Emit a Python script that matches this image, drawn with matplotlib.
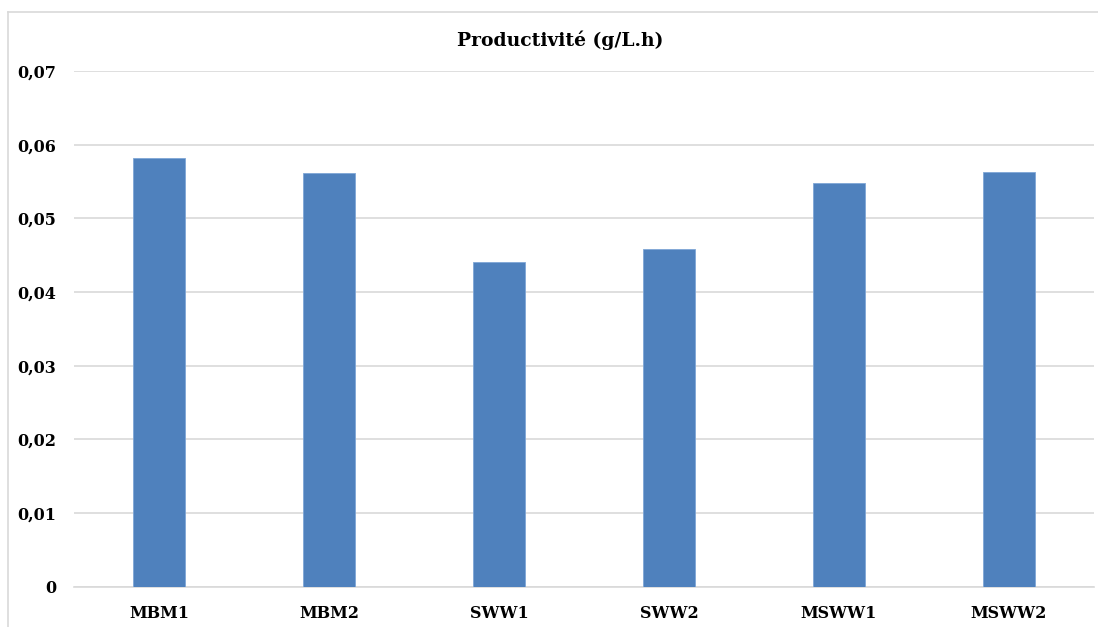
import matplotlib
matplotlib.use("Agg")
import matplotlib.pyplot as plt
from matplotlib.ticker import FuncFormatter, MultipleLocator
from matplotlib.lines import Line2D

categories = ["MBM1", "MBM2", "SWW1", "SWW2", "MSWW1", "MSWW2"]
values = [0.0582, 0.0561, 0.0441, 0.0458, 0.0548, 0.0563]
title = "Productivité (g/L.h)"

plt.rcParams['font.family'] = ['DejaVu Serif']
fig = plt.figure(figsize=(10.98, 6.27), dpi=100)
ax = fig.add_axes([74/1098, 1 - 586.7/627, (1094-74)/1098, (586.7-71)/627])

x = range(len(categories))
ax.bar(x, values, width=0.31, color="#4F81BD", edgecolor="#7FA6D6", linewidth=0.6, zorder=3)
ax.set_xlim(-0.5, len(categories) - 0.5)
ax.set_ylim(0, 0.07)
ax.yaxis.set_major_locator(MultipleLocator(0.01))
ax.yaxis.set_major_formatter(FuncFormatter(lambda v, p: "0" if abs(v) < 1e-12 else f"{v:.2f}".replace(".", ",")))
ax.set_xticks(list(x))
ax.set_xticklabels(categories)
ax.grid(axis="y", color="#D9D9D9", linewidth=1.2, zorder=0)
for s in ["top", "right", "left"]:
    ax.spines[s].set_visible(False)
ax.spines["bottom"].set_color("#D9D9D9")
ax.spines["bottom"].set_linewidth(1.2)
ax.tick_params(axis="both", length=0, labelsize=11.5, colors="black")
ax.tick_params(axis="y", pad=13)
ax.tick_params(axis="x", pad=13)
for lab in ax.get_xticklabels() + ax.get_yticklabels():
    lab.set_fontweight("bold")

fig.text(560/1098, 1 - 40/627, title, ha="center", va="center", fontsize=13.5, fontweight="bold")
yb = 1 - 11.5/627
xl = 8/1098
fig.add_artist(Line2D([xl, 1.0], [yb, yb], transform=fig.transFigure, color="#D9D9D9", linewidth=1.2))
fig.add_artist(Line2D([xl, xl], [0, yb], transform=fig.transFigure, color="#D9D9D9", linewidth=1.2))
fig.savefig("out.png", dpi=100)
